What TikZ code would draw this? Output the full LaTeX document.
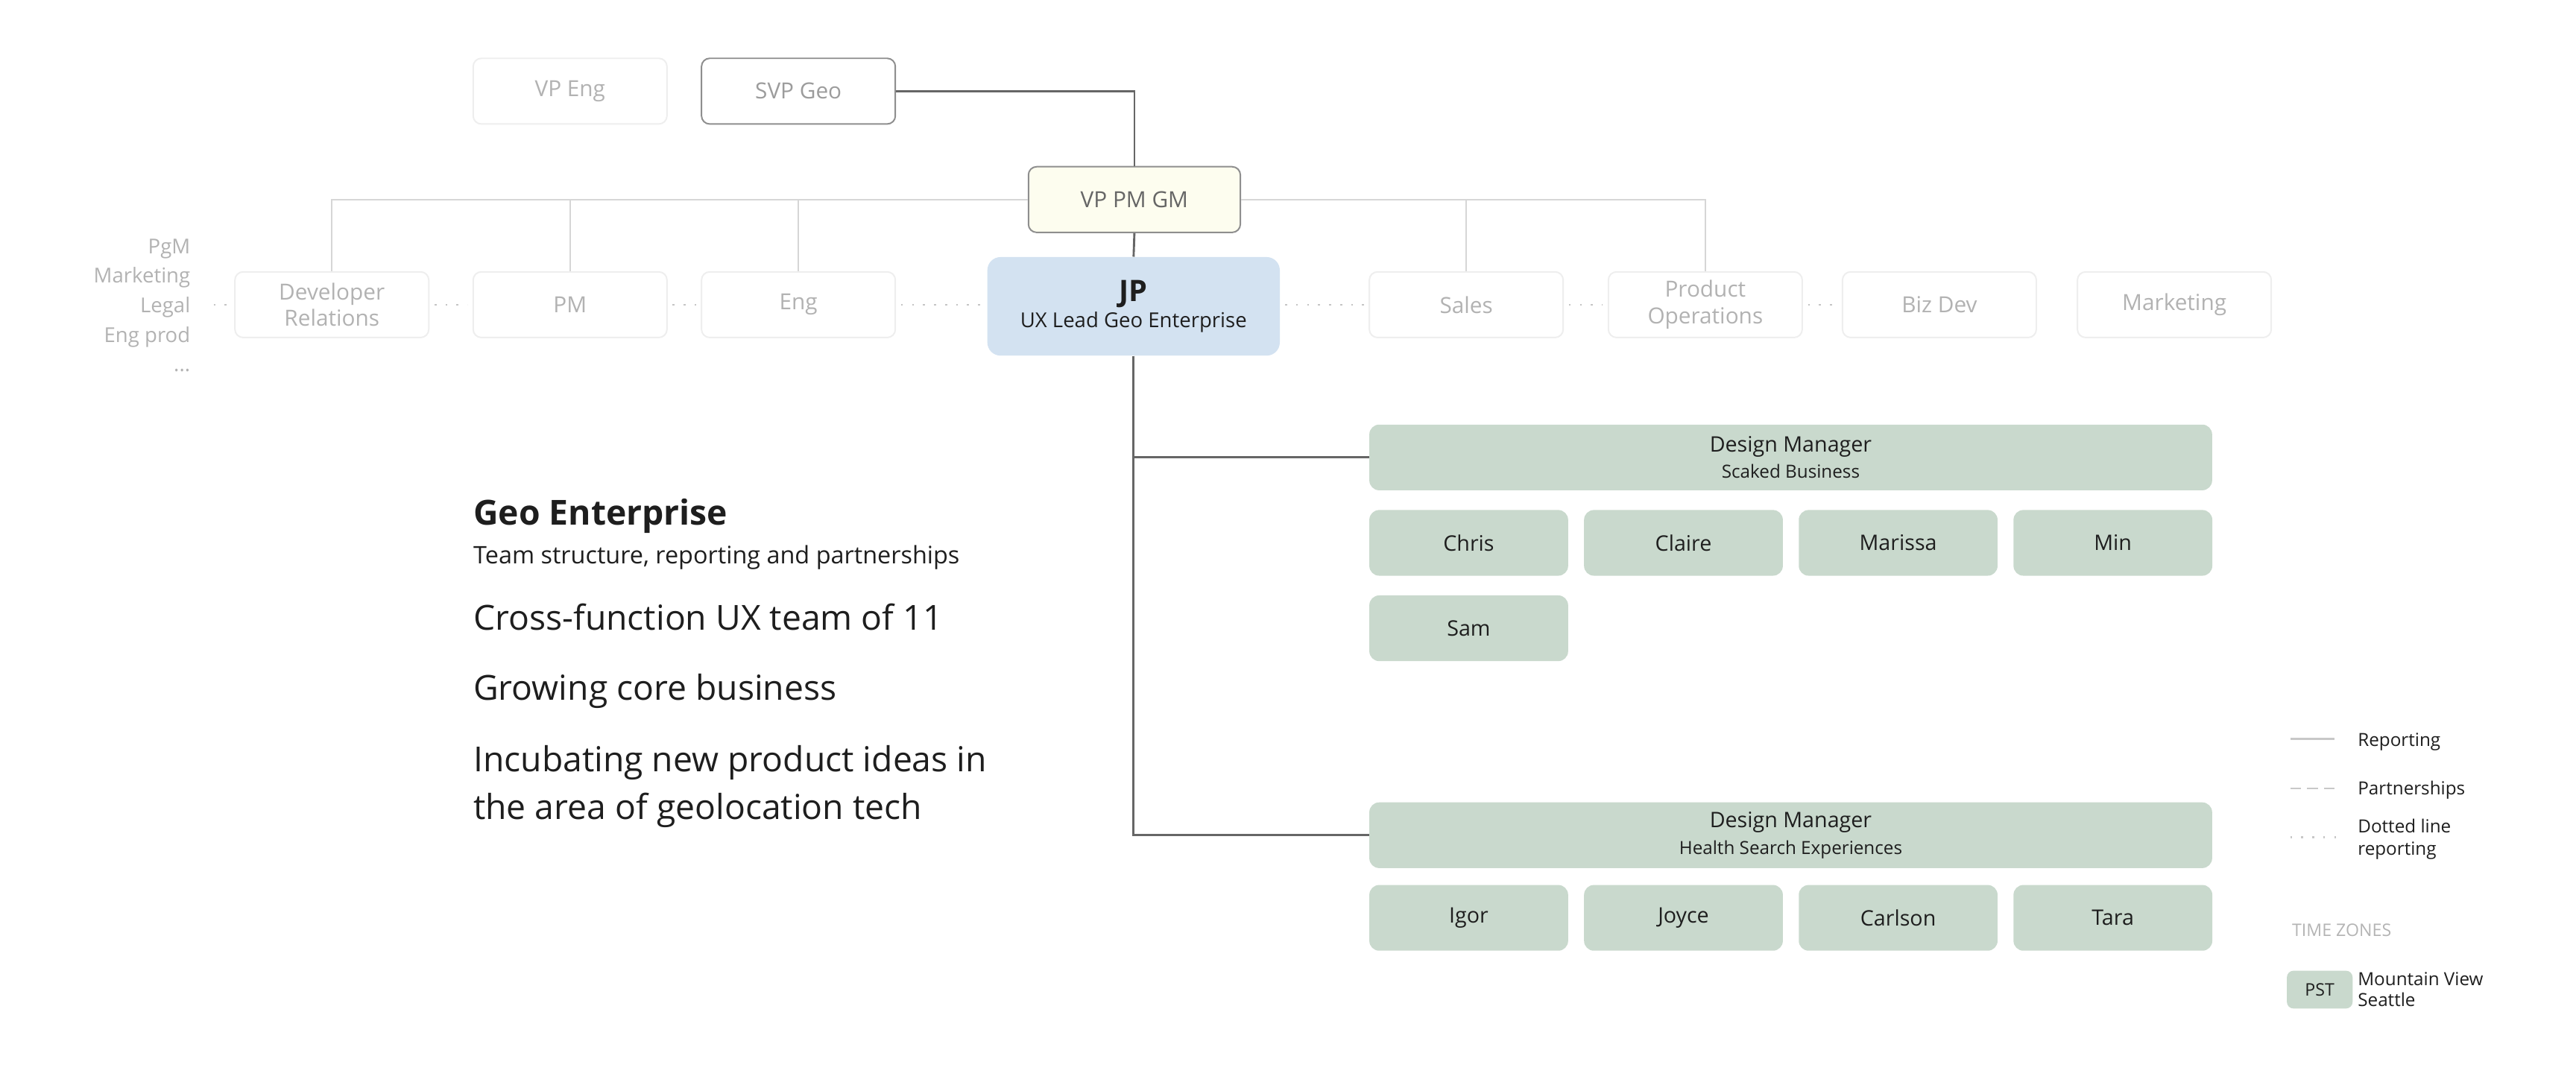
\documentclass[tikz,border=0pt]{standalone}
\usepackage{fontspec}
\setmainfont{Open Sans}
\usetikzlibrary{positioning}
\definecolor{OrgLine}{HTML}{666666}
\definecolor{OrgFaint}{HTML}{D6D6D6}
\definecolor{OrgGhost}{HTML}{EEEEEE}
\definecolor{OrgGhostText}{HTML}{B2B2B2}
\definecolor{OrgMid}{HTML}{8E8E8E}
\definecolor{OrgMidText}{HTML}{9C9C9C}
\definecolor{OrgDots}{HTML}{C4C4C4}
\definecolor{OrgGreen}{HTML}{C9D9CD}
\definecolor{OrgBlue}{HTML}{D3E2F1}
\definecolor{OrgCream}{HTML}{FDFDEF}
\definecolor{OrgInk}{HTML}{1E1E1E}
\definecolor{OrgKey}{HTML}{C8C8C8}

\begin{document}
\begin{tikzpicture}[
    x=1pt,y=-1pt,
    ghost/.style={draw=OrgGhost,line width=0.9pt,fill=white,rounded corners=5pt,minimum width=118pt,minimum height=40pt,align=center,text=OrgGhostText,font=\fontsize{13.5}{16}\selectfont},
    lead/.style={fill=OrgBlue,rounded corners=8pt,minimum width=178pt,minimum height=60pt,align=center,text=OrgInk,font=\fontsize{12.5}{16}\selectfont},
    member/.style={fill=OrgGreen,rounded corners=6pt,minimum width=121pt,minimum height=40pt,align=center,text=OrgInk,font=\fontsize{13}{16}\selectfont},
    manager/.style={member,minimum width=513pt},
    report/.style={draw=OrgLine,line width=1.3pt},
    faint/.style={draw=OrgFaint,line width=1.1pt},
    dotline/.style={draw=OrgDots,line width=1.1pt,dash pattern=on 1.2pt off 5.5pt,shorten <=3pt,shorten >=3pt},
    blurb/.style={anchor=base west,inner sep=0pt,text=OrgInk,font=\fontsize{21}{29.4}\selectfont},
    keytext/.style={anchor=base west,inner sep=0pt,align=left,text=OrgInk,font=\fontsize{11}{13.6}\selectfont}
  ]
  \useasboundingbox (0,0) rectangle (1568,662);

  % upper management
  \node[ghost] (vpeng) at (347,55.5) {VP Eng};
  \node[ghost,draw=OrgMid,text=OrgMidText] (svpgeo) at (486,55.5) {SVP Geo};
  \node[ghost,draw=OrgMid,fill=OrgCream,text=OrgLine,minimum width=129pt] (vppm) at (690.5,121.5) {VP PM GM};

  % peer row
  \node[anchor=east,align=right,inner sep=2pt,text=OrgGhostText,font=\fontsize{12.5}{18}\selectfont] (others) at (118,186) {PgM\\Marketing\\Legal\\Eng prod\\...};
  \node[ghost] (devrel) at (202,185.5) {Developer\\Relations};
  \node[ghost] (pm) at (347,185.5) {PM};
  \node[ghost] (eng) at (486,185.5) {Eng};
  \node[lead] (jp) at (690,186.5) {{\fontsize{18}{20}\selectfont\bfseries JP}\\UX Lead Geo Enterprise};
  \node[ghost] (sales) at (892.5,185.5) {Sales};
  \node[ghost] (prodops) at (1038,185.5) {Product\\Operations};
  \node[ghost] (bizdev) at (1180.5,185.5) {Biz Dev};
  \node[ghost] (marketing) at (1323.5,185.5) {Marketing};

  \draw[report] (svpgeo.east) -| (vppm.north);
  \draw[report] (vppm.south) -- (jp.north);
  \draw[faint] (vppm.west) -| (devrel.north);
  \draw[faint] (pm.north) -- (pm.north |- vppm.west);
  \draw[faint] (eng.north) -- (eng.north |- vppm.west);
  \draw[faint] (vppm.east) -| (prodops.north);
  \draw[faint] (sales.north) -- (sales.north |- vppm.east);

  \draw[dotline,shorten <=12pt] (others.east |- devrel.west) -- (devrel.west);
  \draw[dotline] (devrel) -- (pm);
  \draw[dotline] (pm) -- (eng);
  \draw[dotline] (eng) -- (jp.west |- eng.east);
  \draw[dotline] (jp.east |- sales.west) -- (sales);
  \draw[dotline] (sales) -- (prodops);
  \draw[dotline] (prodops) -- (bizdev);

  % design team
  \node[manager] (dmbiz) at (1090,278.5) {Design Manager\\{\fontsize{11}{13}\selectfont Scaked Business}};
  \foreach \who [count=\i] in {Chris,Claire,Marissa,Min}
    \node[member] (biz\i) at ({894+130.7*(\i-1)},330.5) {\who};
  \node[member] (biz5) at (894,382.5) {Sam};

  \node[manager] (dmhealth) at (1090,508.5) {Design Manager\\{\fontsize{11}{13}\selectfont Health Search Experiences}};
  \foreach \who [count=\i] in {Igor,Joyce,Carlson,Tara}
    \node[member] (health\i) at ({894+130.7*(\i-1)},558.8) {\who};

  \draw[report] (jp.south) |- (dmbiz.west);
  \draw[report] (jp.south) |- (dmhealth.west);

  % summary
  \node[blurb,font=\fontsize{21}{24}\selectfont\bfseries] (title) at (288,319.5) {Geo Enterprise};
  \node[blurb,font=\fontsize{14.7}{17}\selectfont] (subtitle) at (288,343) {Team structure, reporting and partnerships};
  \node[blurb] (point1) at (288,383.7) {Cross-function UX team of 11};
  \node[blurb] (point2) at (288,426.3) {Growing core business};
  \node[blurb,align=left] (point3) at (288,499) {Incubating new product ideas in\\the area of geolocation tech};

  % legend
  \coordinate (keyrep) at (1394,450);
  \coordinate (keypart) at (1394,480);
  \coordinate (keydot) at (1394,509.7);
  \draw[draw=OrgKey,line width=1.3pt] (keyrep) -- ++(27,0);
  \draw[draw=OrgKey,line width=1.3pt,dash pattern=on 6.4pt off 4pt] (keypart) -- ++(27,0);
  \draw[draw=OrgKey,line width=1.1pt,dash pattern=on 1.2pt off 5.5pt] (keydot) -- ++(28,0);
  \node[keytext] (reptext) at (1435,454.6) {Reporting};
  \node[keytext] (parttext) at (1435,484) {Partnerships};
  \node[keytext] (dottext) at (1435,520.4) {Dotted line\\reporting};
  \node[keytext,text=OrgKey!90!black,font=\fontsize{10.5}{13}\selectfont] (zones) at (1395,570) {TIME ZONES};
  \node[fill=OrgGreen,rounded corners=4pt,minimum width=40pt,minimum height=23pt,inner sep=0pt,text=OrgInk,font=\fontsize{10.5}{12}\selectfont] (pst) at (1412,602.5) {PST};
  \node[keytext,font=\fontsize{11}{12.5}\selectfont] (pstcities) at (1435,612.5) {Mountain View\\Seattle};
\end{tikzpicture}
\end{document}
